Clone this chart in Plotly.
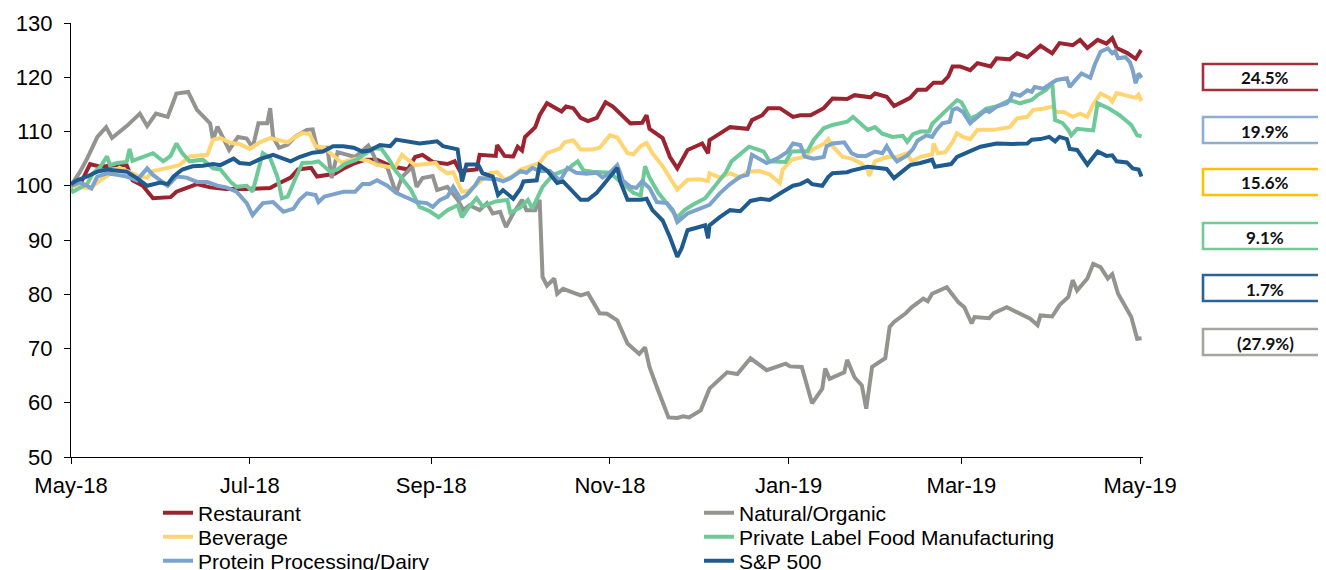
import plotly.graph_objects as go
import pandas as pd

# ---------------- data (day offsets from 2018-05-01, index values) ----------------
START = "2018-05-01"

restaurant_day = [0, 3.8, 6.5, 10, 15, 19, 21, 24.5, 28, 34, 36, 39.5, 43, 47.5, 53, 60, 68, 70, 75, 77.5,
                  82, 84, 90, 93.5, 97, 100.5, 104.5, 109.5, 115, 117.5, 120, 123.5, 128.5, 131, 132.8, 138.5,
                  139.5, 145, 145.5, 148, 151, 152.5, 154, 155, 158.5, 160, 162.5, 164.5, 167.5, 169, 171.5,
                  174, 176.5, 179.5, 182.5, 185, 187.5, 191, 195, 196.5, 197.5, 200.5, 202, 204.5, 207, 210.5,
                  215.5, 217.5, 218, 221.5, 225, 231, 232.5, 236, 238, 242, 246.5, 249, 252.5, 257, 260, 265,
                  267.5, 273, 274.5, 278.5, 281, 284, 286.5, 289, 292, 294.5, 297.5, 299.5, 301, 303.5, 307,
                  309.5, 314, 316, 320.5, 323, 326.5, 331, 335, 337.5, 342, 344.5, 347, 350.5, 353.5, 355.5,
                  357, 360.5, 363.5, 365, 365.5]
restaurant_val = [100, 101, 104, 103.5, 103.8, 103.8, 101, 100, 97.7, 97.9, 98.9, 99.7, 100.3, 99.7, 99.4, 99.4,
                  99.6, 100.2, 101.5, 103, 103.3, 101.7, 102.2, 103.3, 104.2, 104.8, 104.8, 103.6, 103, 105.3,
                  105.7, 104.4, 104, 104.5, 102.7, 103, 105.7, 105.5, 107.5, 105.5, 105.4, 107.2, 106.5, 109,
                  110.8, 113, 115.2, 114.6, 113.7, 114.6, 114.3, 112.5, 111.9, 112.5, 115.4, 114.6, 113.3, 111.5,
                  111.6, 113, 110.5, 109.3, 108.8, 105.3, 103.2, 106.6, 107.8, 106, 108.4, 109.6, 110.8, 110.5,
                  112.1, 113, 114.3, 114.3, 112.7, 113, 113, 114.3, 116.1, 116, 116.7, 116.3, 117, 116.4, 114.7,
                  115.5, 116.2, 117.7, 117.7, 119, 119, 120.1, 122, 122, 121.3, 122.6, 122, 123.5, 123.3, 124.4,
                  123.7, 125.8, 124.4, 126.3, 125.9, 126.9, 125.4, 126.9, 126.2, 127.2, 125.4, 124.5, 123.4,
                  124.7, 124.5]

natural_day = [0, 3, 5.5, 9, 12, 14, 19, 23.5, 26, 29, 33, 36, 40, 43, 47.5, 48.5, 50, 54, 57, 60,
               62, 64, 67, 68, 69, 71, 74, 76.5, 80.5, 82.5, 84, 87.5, 89, 91, 97, 101.5, 103, 104.5, 108, 111,
               113, 116.5, 118, 120, 123.5, 125, 128.5, 132, 134, 136, 139.5, 142, 144, 146.5, 148.5, 151, 154,
               155.5, 158.5, 160, 161, 162.5, 165, 166, 168, 174, 176.5, 180.5, 183, 186.5, 190, 194, 196,
               197.5, 200, 204, 207, 209, 211, 215, 218, 220.5, 224, 227.5, 232, 237.5, 244, 245.5, 249.5,
               250.5, 253, 256.5, 257.5, 259, 264, 265, 267.5, 270, 271.5, 273.5, 278, 279.5, 281, 285, 287,
               291, 292.5, 294, 299, 303, 305, 307.5, 308.5, 313.5, 315, 319.5, 327.5, 330, 331, 335, 337.5,
               340.5, 342, 343.5, 347, 349, 351.5, 354, 355.5, 357.5, 362, 364, 365.5]
natural_val = [100, 102.5, 105, 109, 110.8, 108.8, 111, 113.3, 111, 113.3, 112.7, 117, 117.3, 114, 111.5, 108.4,
               110.9, 106.6, 109, 108.7, 107, 111.5, 111.5, 114.3, 109, 107, 107.6, 109, 110.3, 110.4, 107, 107,
               101.4, 106.2, 105.3, 107.4, 106, 104.2, 103.4, 98.6, 101.6, 103.5, 99.8, 101.4, 101.8, 99.2, 99.8,
               97.4, 95.5, 96.4, 95.5, 96.8, 94.9, 95.2, 92.4, 94.9, 97.4, 95.5, 95.5, 97.4, 83.2, 81.6, 82.9,
               80.1, 81, 79.8, 80.2, 76.5, 76.4, 75.2, 70.9, 69, 70.2, 66.6, 62.9, 57.3, 57.2, 57.5, 57.3, 58.6,
               62.6, 63.8, 65.6, 65.3, 68.2, 66, 67.2, 66.7, 66.6, 64.7, 59.9, 62.6, 66.3, 64.4, 65.6, 67.9,
               64.7, 63.2, 58.9, 66.6, 68.2, 74, 74.9, 76.5, 77.6, 79.2, 78.7, 80.1, 81.3, 78.5, 77.6, 74.6,
               75.8, 75.6, 76.5, 77.6, 75.5, 74.3, 76.1, 75.9, 78, 79.5, 82.6, 80.7, 82.9, 85.6, 85, 82.9, 83.7,
               80.1, 75.8, 71.8, 71.9]

beverage_day = [0, 6.5, 10, 13.5, 16.5, 21, 23.5, 26, 28, 33, 37, 40.5, 46.5, 48.5, 51, 54.5, 57.5, 61, 64.5,
                68, 74, 76, 79, 81.5, 83.5, 86.5, 89.5, 92.5, 94.5, 98, 101.5, 104.5, 110.5, 113, 115, 117.5,
                121, 124.5, 126, 128.5, 130.5, 132, 133.5, 136, 139.5, 143, 145.5, 148, 151, 153.5, 157, 160,
                162.5, 167, 168.5, 171.5, 174, 178, 180.5, 182.5, 184, 186.5, 190, 192, 194.5, 196.5, 198.5,
                202, 204.5, 207, 210.5, 214.5, 217.5, 218, 221.5, 225, 228.5, 231, 235, 238.5, 242, 243, 246,
                250, 253.5, 257, 258.5, 260, 263.5, 266.5, 269.5, 272, 272.5, 274.5, 278.5, 282, 285.5, 287,
                290, 294, 294.5, 296, 298.5, 301, 302.5, 304.5, 307, 309.5, 315, 320.5, 323, 326.5, 328.5,
                332, 335, 336.5, 339, 342, 344.5, 347, 349, 351.5, 354.5, 355.5, 357, 360.5, 363.5, 364.5,
                365.5]
beverage_val = [100, 99.5, 101, 102.3, 103.3, 102.3, 101.7, 101.5, 102.7, 103.3, 103.8, 105.4, 105.7, 108.5,
                108.8, 107.9, 107.7, 106.8, 108, 108.8, 108, 108.8, 109.7, 109.5, 107.3, 107, 105.7, 104.2, 104.6,
                105, 104.6, 103.8, 103.3, 105.7, 104.8, 103.8, 104, 104.2, 103.2, 102.3, 102.5, 100.7, 98.9, 99.1,
                100.7, 102.3, 102.5, 101.1, 101.8, 103, 103.6, 104.2, 106, 106.9, 108, 108.4, 106.7, 106.7, 107,
                108.4, 109.3, 108.9, 106, 105.8, 107.3, 107.9, 106, 103.6, 101.5, 99.3, 101.1, 101.2, 100.9,
                102.3, 101.5, 102.3, 101.5, 102.6, 102.7, 102.1, 100.5, 103, 104.8, 105.3, 106.8, 107.7, 108.6,
                107.3, 105.3, 105, 104.2, 103, 101.8, 104.5, 105.3, 105.3, 106, 104.5, 105.3, 105.8, 107.8, 106,
                106.2, 108.1, 109.7, 109, 108.6, 110.3, 110.3, 110.8, 112.4, 112.7, 114, 114.2, 114.6, 113.6,
                113.6, 112.7, 113.3, 112.7, 115, 117, 116.2, 115.5, 117.1, 116.6, 116.2, 116.8, 115.6]

private_day = [0, 0.7, 5.5, 7.5, 10, 12.3, 13.3, 15.7, 19, 20, 21, 24.5, 28, 31.5, 34, 36, 38, 40.5, 45,
               48.5, 51, 54.5, 56.5, 60, 62, 64, 65.5, 68, 70.5, 72, 74, 76.5, 79, 82.5, 84.5, 88.5, 91, 93.5,
               97.5, 101, 103, 106, 109, 110.5, 112.5, 116, 119, 122.5, 125.5, 128.5, 132, 133.5, 135.5, 138.5,
               140.5, 145, 149, 150, 153.5, 156, 157.5, 159, 161, 164.5, 169.5, 171.5, 173, 175, 178, 184,
               187.5, 190, 192, 194.5, 196, 197.5, 200.5, 202.5, 205, 207, 209.5, 212, 216.5, 219, 223.5,
               225.5, 229, 231.5, 236.5, 238.5, 244, 246, 251.5, 253.5, 257, 260, 265, 267, 272, 274.5, 277,
               280.5, 284, 285.5, 287.5, 290, 293, 294, 296.5, 299.5, 302.5, 304, 307, 309.5, 312.5, 316, 318,
               320.5, 324, 328, 330, 333, 335, 336, 338.5, 340.5, 341.5, 343.5, 349, 350.5, 354.5, 358, 362,
               364, 365.5]
private_val = [99.5, 98.9, 100.3, 102.3, 103.5, 105.4, 103.8, 104.2, 104.4, 106.8, 104.6, 105.4, 106, 104.5,
               105.5, 107.8, 106, 104.5, 104.8, 103.2, 103, 100.7, 99.8, 100, 98.9, 103, 106, 105.1, 101.6, 97.7,
               98, 101.2, 104.2, 104.3, 104.5, 102.6, 103, 104, 104.8, 106.1, 106.9, 106.8, 104.5, 103, 101.7,
               99.3, 96.1, 95.3, 94.2, 95.5, 96.4, 94.2, 95.8, 97.7, 96.2, 97.1, 97.4, 95, 96, 97.4, 95.8, 97.4,
               99.8, 102, 103, 103.9, 104.5, 102.8, 102.6, 102.4, 100.7, 99.5, 98.7, 98.2, 103.6, 101.5, 98.7,
               97.4, 95.5, 94.1, 95.5, 96.4, 97.7, 99.3, 102.4, 104.5, 106, 107.2, 106.3, 104.5, 104.4, 106.3,
               106.4, 108.4, 110.6, 111.2, 111.8, 112.7, 110.3, 110.8, 109.6, 109, 109.2, 108.1, 109.5, 110, 110,
               111.4, 112.7, 114.2, 115.8, 115.4, 112.4, 113, 114.2, 114.6, 115.2, 115.8, 115.2, 115.8, 116.7,
               117.7, 119, 112.1, 111.6, 110.3, 109.3, 110.5, 110.2, 115.2, 114.2, 113, 111.2, 109.3, 109.1]

protein_day = [0, 3, 5.5, 7, 9, 12.3, 15.7, 19, 22.5, 26, 28, 30.5, 33, 36, 39.5, 43, 46.5, 50, 53, 56.5, 60,
               62, 65.5, 69, 72.5, 76, 78, 80.5, 83.5, 84.5, 86.5, 89.5, 93, 97, 99.5, 102, 104.5, 108, 111,
               115.5, 118, 121.5, 123.5, 126, 128.5, 130.5, 133, 135, 138, 139.5, 145.5, 147.5, 150, 153.5,
               155.5, 157.5, 160, 163.5, 167, 169.5, 172.5, 176, 179.5, 181.5, 184, 186.5, 188.5, 191, 193,
               195, 197.5, 200, 203.5, 205.5, 207, 210.5, 214.5, 218, 221.5, 225, 228.5, 231, 232.5, 235.5,
               237.5, 241, 244.5, 246.5, 249, 250.5, 253.5, 257, 258, 260, 264, 266.5, 268.5, 271.5, 274.5,
               277, 278.5, 280.5, 282, 285.5, 287.5, 289, 292, 294, 295.5, 297.5, 300, 301, 302.5, 304.5, 307,
               308, 310.5, 312.5, 313.5, 316, 319.5, 320.5, 321.5, 324, 326.5, 328, 329, 332, 335, 336.5, 340,
               341, 342.5, 345, 348, 349.5, 351.5, 354, 355.5, 356.5, 357.5, 360, 361.5, 362.5, 363.5, 364.5,
               365.5]
protein_val = [100, 100.6, 100, 99.5, 101.7, 102.3, 102, 101.7, 101, 103.2, 102, 101, 100, 101.7, 101.5, 100.7,
               100.7, 100, 99.7, 98.9, 96.8, 94.6, 96.8, 97, 95.2, 95.8, 97.4, 98.6, 98.3, 97, 98, 98.4, 98.9,
               98.9, 100.3, 100.3, 101, 100, 98.7, 97.6, 97, 96.8, 96.1, 97.4, 98, 99.8, 97.6, 98.2, 100.1,
               101.4, 101.2, 100.8, 101.4, 102.7, 102.4, 103.3, 102.7, 102.7, 100.9, 103.3, 102.4, 102.2, 102.4,
               101.5, 102.4, 103.8, 100.9, 99.8, 99.6, 100.8, 99.6, 97, 96.8, 95.5, 93.3, 94.9, 95.7, 96.5, 98.6,
               100.3, 101.7, 102, 105.7, 104.8, 104.2, 105, 106.2, 107.8, 107.5, 105.4, 105, 105.3, 107.3, 107.8,
               108, 106, 105.5, 105.5, 106.3, 106, 107.3, 105.5, 104.5, 105.6, 106.8, 108.3, 109.3, 109, 110.3,
               111.5, 111.8, 114, 114.3, 113.6, 111.5, 112, 113, 114, 113.6, 114.6, 115.2, 115.8, 117, 116.6,
               117.6, 117.3, 118.2, 117.9, 119, 119.5, 119.8, 118.2, 119.2, 120.7, 119.9, 122.3, 124.7, 125.3,
               124.4, 124.8, 123.5, 123.7, 122.8, 121.3, 118.9, 120.7, 119.9]

sp500_day = [0, 2, 5.5, 9, 12.3, 15.7, 19, 22.5, 26, 30.5, 33, 35, 38, 41.5, 45, 48.5, 51, 55.5, 57.5, 61,
             64.5, 69, 72.5, 75, 78, 82.5, 86, 89.5, 93, 96.5, 99.5, 102, 105.5, 109, 111, 115.5, 119, 122.5,
             125, 127, 130.5, 132, 133.5, 135, 139, 140.5, 144, 145.8, 147.5, 151, 153.5, 154.5, 159, 160,
             162.5, 166, 168, 171, 174, 176.5, 179.5, 181.5, 184, 186.5, 187.5, 190, 194.5, 196.5, 198.5, 202,
             204.5, 207, 208.5, 210.5, 214.5, 216.5, 217.5, 218, 221.5, 225, 228.5, 232, 235.5, 238.5, 243,
             246.5, 249, 251.5, 253, 256.5, 258.5, 260, 265, 266.5, 272, 276.5, 278.5, 281, 284, 286.5, 290,
             294, 295, 299.5, 300.5, 302.5, 307, 310.5, 316, 321.5, 326.5, 328, 331, 334, 336, 337.5, 340,
             341, 343.5, 345, 347, 350.5, 353.5, 355.5, 357, 360.5, 362.5, 364.5, 365.5]
sp500_val = [100.3, 101, 101.7, 102.6, 103, 102.8, 102.6, 101.4, 100, 100.6, 100.3, 101.7, 103, 103.6, 103.7,
             104, 103.8, 105, 104.2, 104, 104.9, 105.7, 105, 104.5, 105.3, 106.1, 106.3, 107.3, 107.3, 107,
             106.3, 106.5, 107.5, 107.3, 108.5, 108.2, 107.8, 108, 108.2, 107.3, 106.9, 106.7, 100.8, 103.9,
             103.9, 102.3, 101.7, 98.3, 99.2, 97.6, 99.5, 100.8, 101, 103.8, 102.8, 100.5, 100.8, 99, 97.4,
             97.4, 98.7, 100, 101.7, 103.3, 100.8, 97.4, 97.4, 97.6, 95.5, 93.6, 90.5, 86.9, 88.5, 91.8, 92.4,
             92.7, 90.3, 92.7, 94.2, 95.5, 95.3, 97.2, 97.6, 97.4, 98.9, 100, 100.3, 101, 100.3, 100, 101.6,
             102.3, 102.5, 102.8, 103.5, 103.3, 103.1, 101.4, 102.6, 103.8, 104.2, 104.8, 103.5, 103.8, 104,
             105.3, 106.3, 107.2, 107.8, 107.7, 107.8, 108.5, 108.6, 109, 108.2, 109, 108.6, 106.8, 106.6,
             105.5, 103.9, 106.3, 105.5, 105.6, 104.5, 104.3, 103.2, 103, 101.7]

series_names = ["Restaurant", "Natural/Organic", "Beverage", "Private Label Food Manufacturing",
                "Protein Processing/Dairy", "S&P 500"]
series_days = [restaurant_day, natural_day, beverage_day, private_day, protein_day, sp500_day]
series_vals = [restaurant_val, natural_val, beverage_val, private_val, protein_val, sp500_val]
series_colors = ["#9B2430", "#93948F", "#FFD571", "#6DCA98", "#7CA3CC", "#1F5B8E"]

box_labels = ["24.5%", "19.9%", "15.6%", "9.1%", "1.7%", "(27.9%)"]
box_colors = ["#A3303A", "#8EADD3", "#FFC000", "#72CB97", "#2C6395", "#A6A6A1"]

tick_dates = ["2018-05-01", "2018-07-01", "2018-09-01", "2018-11-01", "2019-01-01", "2019-03-01", "2019-05-01"]
tick_text = ["May-18", "Jul-18", "Sep-18", "Nov-18", "Jan-19", "Mar-19", "May-19"]

# ---------------- figure ----------------
# the page body adds an 8px margin; work in screen pixels and shift by OFF
OFF = 8
SW, SH = 1326, 570                     # screen size
W, H = SW - OFF, SH - OFF              # figure size
PLOT_L, PLOT_R, PLOT_T, PLOT_B = 71, 1143, 23, 457   # plot area in screen pixels
ML, MR, MT, MB = PLOT_L - OFF, SW - PLOT_R, PLOT_T - OFF, SH - PLOT_B
PW, PH = PLOT_R - PLOT_L, PLOT_B - PLOT_T

start = pd.Timestamp(START)
fig = go.Figure()
legend_keys = ["legend", "legend2", "legend3", "legend4", "legend5", "legend6"]
for i, (name, days, vals, col) in enumerate(zip(series_names, series_days, series_vals, series_colors)):
    dates = [start + pd.Timedelta(days=d) for d in days]
    fig.add_trace(go.Scatter(x=dates, y=vals, mode="lines", name=name,
                             line=dict(color=col, width=4), legend=legend_keys[i],
                             hoverinfo="skip"))

# legend placement (two columns x three rows), screen pixels
leg_cols_px = [158, 699]
leg_rows_px = [513, 537, 561]
layout_legends = {}
for i, key in enumerate(legend_keys):
    cx = leg_cols_px[i % 2] - OFF
    cy = leg_rows_px[i // 2] - OFF
    layout_legends[key] = dict(x=cx / W, y=1 - cy / H, xref="container", yref="container",
                               xanchor="left", yanchor="middle", bgcolor="rgba(0,0,0,0)",
                               borderwidth=0, font=dict(family="Liberation Sans, Arial", size=21, color="#000"),
                               tracegroupgap=0)


def px2x(px):
    return (px - PLOT_L) / PW


def px2y(py):
    return (PLOT_B - py) / PH


# right-side boxes (screen pixels)
box_tops = [64, 117, 169, 223, 275, 329]
box_h = 26
shapes = []
annotations = []
for lab, col, top in zip(box_labels, box_colors, box_tops):
    shapes.append(dict(type="rect", xref="paper", yref="paper",
                       x0=px2x(1203), x1=px2x(1345), y0=px2y(top + box_h), y1=px2y(top),
                       line=dict(color=col, width=2.6), fillcolor="white", layer="above"))
    annotations.append(dict(xref="paper", yref="paper", x=px2x(1265), y=px2y(top + box_h / 2 + 1),
                            text="<b>" + lab + "</b>", showarrow=False,
                            font=dict(family="Lato, Liberation Sans", size=17, color="#111"),
                            xanchor="center", yanchor="middle"))

fig.update_layout(
    width=W, height=H,
    margin=dict(l=ML, r=MR, t=MT, b=MB, autoexpand=False),
    paper_bgcolor="white", plot_bgcolor="white",
    shapes=shapes, annotations=annotations,
    showlegend=True,
    **layout_legends,
)

fig.update_xaxes(type="date", range=[start, start + pd.Timedelta(days=366)],
                 tickvals=tick_dates, ticktext=tick_text,
                 showgrid=False, zeroline=False, showline=True, linecolor="#000", linewidth=1.3,
                 ticks="outside", ticklen=6, tickwidth=1.3, tickcolor="#000", ticklabelstandoff=2,
                 tickfont=dict(family="Liberation Sans, Arial", size=22, color="#000"))
fig.update_yaxes(range=[50, 130], dtick=10, tick0=50,
                 showgrid=False, zeroline=False, showline=True, linecolor="#000", linewidth=1.3,
                 ticks="outside", ticklen=6, tickwidth=1.3, tickcolor="#000", ticklabelstandoff=7,
                 tickfont=dict(family="Liberation Sans, Arial", size=22, color="#000"))

fig.write_html("out.html")
